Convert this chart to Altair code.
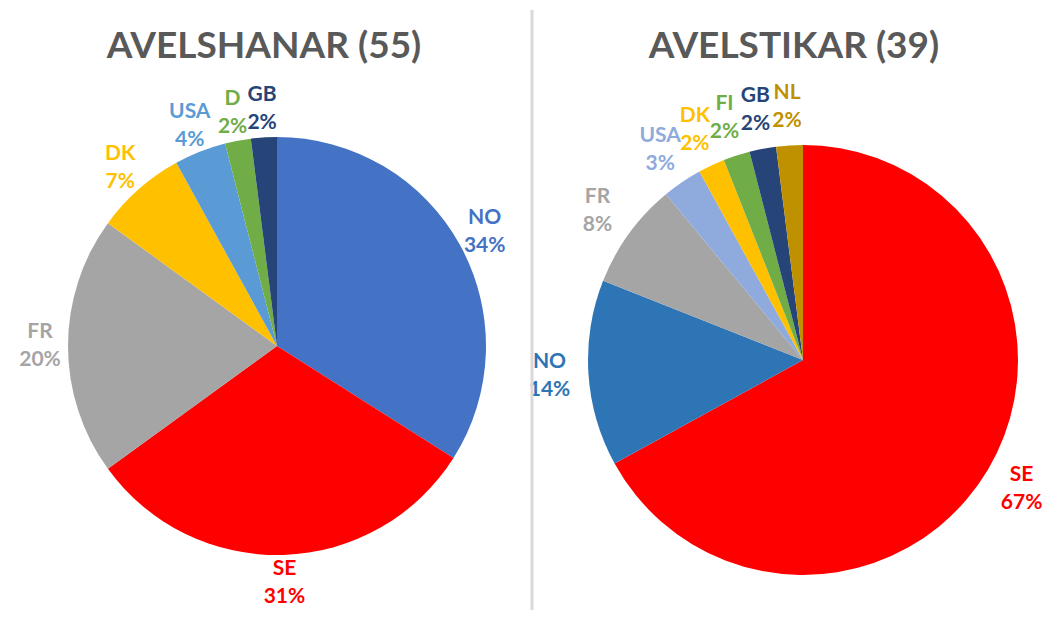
import altair as alt
import pandas as pd

# ---- data ----
left_countries = ["NO", "SE", "FR", "DK", "USA", "D", "GB"]
left_pct = [34, 31, 20, 7, 4, 2, 2]
left_colors = ["#4472C4", "#FF0000", "#A5A5A5", "#FFC000", "#5B9BD5", "#70AD47", "#264478"]

right_countries = ["SE", "NO", "FR", "USA", "DK", "FI", "GB", "NL"]
right_pct = [67, 14, 8, 3, 2, 2, 2, 2]
right_colors = ["#FF0000", "#2E75B6", "#A5A5A5", "#8FAADC", "#FFC000", "#70AD47", "#264478", "#BF9000"]

titles = ["AVELSHANAR (55)", "AVELSTIKAR (39)"]

FONT = "Lato"


def make_df(countries, pct):
    return pd.DataFrame({
        "country": countries,
        "pct": pct,
        "order": list(range(len(countries))),
        "label": [f"{c}\n{p}%" for c, p in zip(countries, pct)],
    })


def pie(df, colors, cx, cy, r, lr):
    base = alt.Chart(df).encode(
        theta=alt.Theta("pct:Q", stack=True),
        order=alt.Order("order:Q"),
        color=alt.Color("country:N",
                        scale=alt.Scale(domain=list(df["country"]), range=colors),
                        legend=None),
        x=alt.value(cx),
        y=alt.value(cy),
    )
    arc = base.mark_arc(radius=r)
    text = base.mark_text(radius=lr, fontSize=21, fontWeight="bold", font=FONT,
                          lineBreak="\n", lineHeight=28, dy=-14, align="center",
                          baseline="middle").encode(text="label:N")
    return alt.layer(arc, text)


left = pie(make_df(left_countries, left_pct), left_colors, 269, 338, 209, 237)
right = pie(make_df(right_countries, right_pct), right_colors, 795, 352, 215, 254)

rule = alt.Chart(pd.DataFrame({"a": [0]})).mark_rule(color="#D9D9D9", strokeWidth=3).encode(
    x=alt.value(524), y=alt.value(2), y2=alt.value(610))

t_left = alt.Chart(pd.DataFrame({"t": [titles[0]]})).mark_text(
    fontSize=37, fontWeight="bold", font=FONT, color="#595959", align="center", baseline="middle"
).encode(text="t:N", x=alt.value(256), y=alt.value(39))

t_right = alt.Chart(pd.DataFrame({"t": [titles[1]]})).mark_text(
    fontSize=37, fontWeight="bold", font=FONT, color="#595959", align="center", baseline="middle"
).encode(text="t:N", x=alt.value(786), y=alt.value(39))

chart = alt.layer(left, right, rule, t_left, t_right).resolve_scale(
    theta="independent", color="independent"
).properties(
    width=1036, height=602, padding=0, autosize="none", background="white"
).configure_view(stroke=None)

chart.save("out.html", embed_options={"renderer": "svg", "actions": False})
